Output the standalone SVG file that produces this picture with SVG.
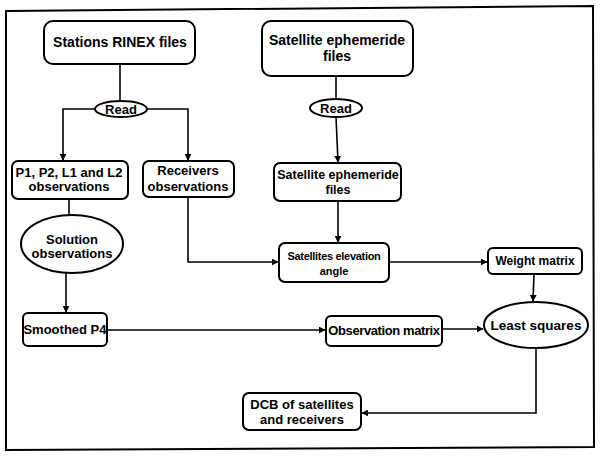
<svg xmlns="http://www.w3.org/2000/svg" width="600" height="456" viewBox="0 0 600 456">
<style>
.n{fill:#fff;stroke:#000;stroke-width:2}
.t{font-family:"Liberation Sans",Arial,sans-serif;font-weight:bold;font-size:13px;fill:#000;text-anchor:middle}
.c{fill:none;stroke:#000;stroke-width:1.6}
</style>
<defs>
<marker id="ah" viewBox="0 0 10 10" refX="9" refY="5" markerWidth="7" markerHeight="7" markerUnits="userSpaceOnUse" orient="auto">
<path d="M0,0 L10,5 L0,10 z" fill="#000"/>
</marker>
</defs>
<rect width="600" height="456" fill="#fff"/>
<polygon points="6,11 593,6 594,447 6,450" fill="none" stroke="#000" stroke-width="2"/>
<g id="connectors">
<path class="c" d="M120,64 V100"/>
<path class="c" d="M95,109 H63 V160" marker-end="url(#ah)"/>
<path class="c" d="M147,109 H188 V160" marker-end="url(#ah)"/>
<path class="c" d="M336,76 V99"/>
<path class="c" d="M336,117 L338,162" marker-end="url(#ah)"/>
<path class="c" d="M338,201 V242" marker-end="url(#ah)"/>
<path class="c" d="M69,199 V215"/>
<path class="c" d="M66,273 V312" marker-end="url(#ah)"/>
<path class="c" d="M188,197 V262 H278" marker-end="url(#ah)"/>
<path class="c" d="M389,262 H487" marker-end="url(#ah)"/>
<path class="c" d="M534,274 L533,301" marker-end="url(#ah)"/>
<path class="c" d="M107,330 H325" marker-end="url(#ah)"/>
<path class="c" d="M442,329 H483" marker-end="url(#ah)"/>
<path class="c" d="M536,349 V413 H362" marker-end="url(#ah)"/>
</g>
<g id="stations-rinex"><rect class="n" x="44" y="21" width="151" height="43" rx="9"/><text class="t" x="120" y="47" style="font-size:14px">Stations RINEX files</text></g>
<g id="read1"><ellipse class="n" cx="121" cy="109" rx="26" ry="8"/><text class="t" x="121" y="114">Read</text></g>
<g id="sat-eph-files"><rect class="n" x="262" y="21" width="151" height="55" rx="9"/><text class="t" x="337" y="45" style="font-size:14px">Satellite ephemeride</text><text class="t" x="337" y="61" style="font-size:14px">files</text></g>
<g id="read2"><ellipse class="n" cx="336" cy="108" rx="26" ry="9"/><text class="t" x="336" y="113">Read</text></g>
<g id="p1p2"><rect class="n" x="12" y="161" width="116" height="38" rx="6"/><text class="t" x="69" y="177">P1, P2, L1 and L2</text><text class="t" x="69" y="191">observations</text></g>
<g id="receivers"><rect class="n" x="143" y="161" width="91" height="36" rx="6"/><text class="t" x="188" y="175">Receivers</text><text class="t" x="188" y="191">observations</text></g>
<g id="sat-eph-files2"><rect class="n" x="274" y="163" width="127" height="38" rx="6"/><text class="t" x="338" y="179" style="font-size:12.5px">Satellite ephemeride</text><text class="t" x="338" y="194" style="font-size:12.5px">files</text></g>
<g id="solution"><ellipse class="n" cx="72" cy="244" rx="51" ry="29"/><text class="t" x="72" y="244">Solution</text><text class="t" x="72" y="258">observations</text></g>
<g id="sat-elev"><rect class="n" x="279" y="243" width="110" height="39" rx="6"/><text class="t" x="334" y="260" style="font-size:11px;letter-spacing:-0.3px">Satellites elevation</text><text class="t" x="334" y="275" style="font-size:11px">angle</text></g>
<g id="weight"><rect class="n" x="488" y="248" width="94" height="26" rx="5"/><text class="t" x="535" y="265" style="font-size:12px">Weight matrix</text></g>
<g id="smoothed"><rect class="n" x="23" y="313" width="84" height="33" rx="5"/><text class="t" x="65" y="334">Smoothed P4</text></g>
<g id="obs-matrix"><rect class="n" x="326" y="316" width="116" height="30" rx="5"/><text class="t" x="384" y="335" style="letter-spacing:-0.4px">Observation matrix</text></g>
<g id="least-squares"><ellipse class="n" cx="536" cy="325" rx="52" ry="23"/><text class="t" x="536" y="330" style="font-size:13.5px">Least squares</text></g>
<g id="dcb"><rect class="n" x="243" y="393" width="118" height="37" rx="6"/><text class="t" x="302" y="409">DCB of satellites</text><text class="t" x="302" y="424">and receivers</text></g>
</svg>
